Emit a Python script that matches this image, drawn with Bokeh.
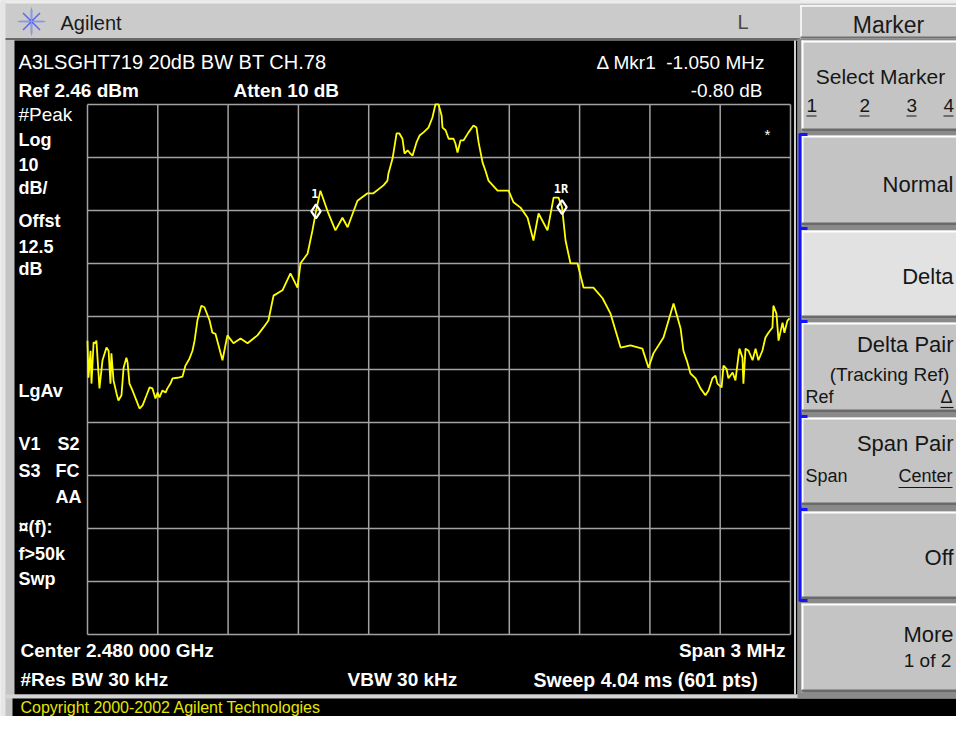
from bokeh.plotting import figure
from bokeh.models import Range1d
from bokeh.core.properties import value
from bokeh.embed import file_html
from bokeh.resources import INLINE

# ---------------- data ----------------
freq_offset_mhz = [
    -1.500, -1.496, -1.487, -1.483, -1.474, -1.466, -1.462, -1.449, -1.436, -1.419,
    -1.410, -1.402, -1.398, -1.389, -1.376, -1.368, -1.355, -1.346, -1.334, -1.329,
    -1.321, -1.308, -1.291, -1.278, -1.265, -1.248, -1.235, -1.223, -1.210, -1.201,
    -1.193, -1.180, -1.167, -1.159, -1.146, -1.137, -1.116, -1.095, -1.082, -1.065,
    -1.052, -1.043, -1.031, -1.022, -1.014, -1.001, -0.979, -0.967, -0.954, -0.924,
    -0.903, -0.877, -0.847, -0.817, -0.775, -0.749, -0.728, -0.706, -0.668, -0.634,
    -0.604, -0.591, -0.561, -0.540, -0.525, -0.506, -0.472, -0.442, -0.412, -0.390,
    -0.348, -0.305, -0.280, -0.237, -0.220, -0.216, -0.198, -0.181, -0.169, -0.156,
    -0.147, -0.134, -0.126, -0.113, -0.109, -0.096, -0.083, -0.066, -0.045, -0.028,
    -0.015, -0.002, 0.011, 0.015, 0.028, 0.041, 0.062, 0.070, 0.079, 0.092,
    0.105, 0.126, 0.147, 0.160, 0.169, 0.186, 0.198, 0.211, 0.250, 0.297,
    0.318, 0.348, 0.378, 0.403, 0.425, 0.463, 0.489, 0.510, 0.525, 0.540,
    0.561, 0.591, 0.617, 0.659, 0.698, 0.732, 0.775, 0.817, 0.868, 0.894,
    0.915, 0.958, 1.001, 1.031, 1.043, 1.060, 1.073, 1.095, 1.116, 1.137,
    1.150, 1.167, 1.180, 1.188, 1.206, 1.214, 1.227, 1.235, 1.253, 1.265,
    1.282, 1.295, 1.299, 1.308, 1.321, 1.338, 1.351, 1.363, 1.380, 1.393,
    1.406, 1.423, 1.427, 1.440, 1.449, 1.466, 1.474, 1.487, 1.496,
]
level_dbm = [
    -42.1, -49.1, -44.0, -50.2, -42.4, -42.6, -42.1, -51.1, -45.8, -43.4,
    -44.0, -50.2, -44.5, -49.6, -52.1, -53.4, -52.4, -47.2, -45.3, -46.2,
    -50.2, -51.5, -53.4, -54.9, -54.3, -52.4, -50.9, -51.1, -53.0, -51.9,
    -52.8, -51.5, -51.9, -51.1, -50.2, -49.2, -49.1, -48.9, -46.8, -45.5,
    -44.0, -42.1, -38.3, -36.8, -35.5, -35.8, -38.3, -40.6, -40.8, -45.8,
    -41.1, -42.6, -41.7, -42.6, -41.1, -39.6, -38.3, -33.6, -32.6, -29.4,
    -32.1, -27.5, -25.7, -21.3, -17.7, -13.8, -18.1, -21.3, -18.9, -20.7,
    -15.7, -14.3, -14.3, -12.8, -11.9, -10.6, -7.7, -3.0, -3.0, -4.0,
    -6.8, -6.2, -6.6, -7.2, -6.6, -4.7, -3.4, -2.8, -1.9, 0.0,
    2.5, 2.5, 0.4, -1.9, -2.4, -4.0, -4.0, -4.9, -6.6, -4.3,
    -4.3, -2.8, -1.5, -1.9, -4.7, -8.5, -10.0, -11.9, -13.8, -13.8,
    -16.0, -17.0, -18.9, -23.2, -18.1, -21.3, -15.1, -15.1, -16.9, -23.2,
    -27.5, -27.5, -32.1, -32.1, -34.1, -37.0, -43.4, -43.0, -43.6, -47.2,
    -44.5, -41.5, -35.1, -39.8, -44.0, -46.2, -48.3, -49.2, -51.1, -52.4,
    -51.5, -49.2, -48.7, -50.2, -50.9, -46.8, -47.4, -49.2, -48.1, -49.6,
    -43.6, -45.3, -50.2, -43.6, -44.0, -45.8, -43.6, -45.8, -44.0, -41.5,
    -40.6, -39.6, -35.5, -37.0, -42.1, -38.7, -40.6, -38.3, -37.9,
]
marker_offset_mhz = [-0.525, 0.525]
marker_level_dbm = [-17.7, -16.9]
marker_names = ["1", "1R"]

x_div_mhz = [-1.5, -1.2, -0.9, -0.6, -0.3, 0.0, 0.3, 0.6, 0.9, 1.2, 1.5]
y_div_dbm = [2.46, -7.54, -17.54, -27.54, -37.54, -47.54, -57.54, -67.54, -77.54, -87.54, -97.54]

# ---------------- layout (screen pixels) ----------------
GX0, GX1, GY0, GY1 = 87, 790, 104, 634   # graticule box
W, H = 956, 716
F0, F1 = x_div_mhz[0], x_div_mhz[-1]
D_TOP, D_BOT = y_div_dbm[0], y_div_dbm[-1]


def f_at(px):
    return F0 + (px - GX0) * (F1 - F0) / (GX1 - GX0)


def db_at(py):
    return D_TOP - (py - GY0) * (D_TOP - D_BOT) / (GY1 - GY0)


p = figure(width=W, height=H,
           x_range=Range1d(0, W), y_range=Range1d(H, 0),
           output_backend="svg", toolbar_location=None,
           x_axis_location=None, y_axis_location=None,
           min_border=0, outline_line_color=None,
           background_fill_color="white", border_fill_color="white")
p.grid.visible = False
p.extra_x_ranges = {"f": Range1d(f_at(0), f_at(W))}
p.extra_y_ranges = {"db": Range1d(db_at(H), db_at(0))}

FONT = value("Liberation Sans")


def box(l, t, r, b, color):
    p.quad(left=[l], right=[r], top=[t], bottom=[b], fill_color=color, line_color=None)


def seg(x0, y0, x1, y1, color, w=1.0):
    p.segment(x0=[x0], y0=[y0], x1=[x1], y1=[y1], line_color=color, line_width=w)


def txt(x, y, s, size, bold=False, color="white", align="left"):
    p.text(x=[x], y=[y], text=[s], text_font=FONT, text_font_size=f"{size}px",
           text_font_style="bold" if bold else "normal", text_color=color,
           text_align=align, text_baseline="middle")


# ---- instrument frame ----
box(0, 0, W, H, "#c4c4c4")
box(0, 0, 800, 38, "#cbcbcb")
box(0, 0, W, 3, "#ececec")
box(0, 0, 5, H, "#e6e6e6")
seg(5, 38.5, 800, 38.5, "#6a6a6a", 2)
box(14, 40, 797, 694, "#000000")
box(5, 694, W, 698, "#d4d4d4")
box(12, 698, W, H, "#000000")
box(797, 38, W, 698, "#8a8a8a")
seg(794.5, 40, 794.5, 694, "#d0d0d0", 2)

# logo + header
p.scatter(x=[31], y=[21], marker="asterisk", size=24, line_color="#5b6cf2", line_width=1.6)
p.scatter(x=[31], y=[21], marker="cross", size=28, line_color="#8a96f6", line_width=1)
txt(60, 22, "Agilent", 20, color="#1a1a1a")
txt(737, 21, "L", 20, color="#4a4a4a")

# ---- softkey panel ----
box(800, 5, W, 38, "#c6c6c6")
seg(800, 5.5, W, 5.5, "#ffffff", 1.5)
seg(800.5, 5, 800.5, 38, "#ffffff", 1.5)
seg(800, 37, W, 37, "#707070", 2)
txt(888, 24, "Marker", 23, color="#1a1a1a", align="center")

keys = [(40, 131, "#c4c4c4"), (135, 225, "#c4c4c4"), (230, 318, "#e2e2e2"),
        (322, 412, "#c4c4c4"), (417, 505, "#c4c4c4"), (511, 599, "#c4c4c4"),
        (603, 692, "#c4c4c4")]
for t, b, c in keys:
    box(801, t, W, b, c)
    seg(801, t + 1, W, t + 1, "#ffffff", 2)
    seg(802, t, 802, b, "#ffffff", 2)
    seg(801, b - 1.5, W, b - 1.5, "#6a6a6a", 3)

# blue bracket of the marker-mode keys
seg(799.5, 133, 799.5, 601, "#1414ff", 3)
for yb in [134, 228, 321, 416, 509, 600]:
    seg(799, yb, 807, yb, "#1414ff", 3)

KC = "#161616"
RX = 953
txt(880, 76, "Select Marker", 21, color=KC, align="center")
for xk, k in zip([806, 859, 906, 943], ["1", "2", "3", "4"]):
    txt(xk, 104.5, k, 19, color=KC)
    seg(xk, 115.5, xk + 10, 115.5, KC, 1.2)
txt(RX, 184, "Normal", 22, color=KC, align="right")
txt(RX, 276, "Delta", 22, color=KC, align="right")
txt(RX, 344, "Delta Pair", 22, color=KC, align="right")
txt(889, 373.5, "(Tracking Ref)", 19, color=KC, align="center")
txt(805, 396.5, "Ref", 18, color=KC)
txt(940, 396.5, "\u0394", 18, color=KC)
seg(940, 407, 953, 407, KC, 1.2)
txt(RX, 442.5, "Span Pair", 22, color=KC, align="right")
txt(805, 475.5, "Span", 18, color=KC)
txt(898, 475.5, "Center", 18, color=KC)
seg(898, 487, 952, 487, KC, 1.2)
txt(RX, 557, "Off", 22, color=KC, align="right")
txt(RX, 634, "More", 22, color=KC, align="right")
txt(927, 660, "1 of 2", 19, color=KC, align="center")

# ---- screen annotations ----
txt(18, 61.5, "A3LSGHT719 20dB BW BT CH.78", 20)
txt(18, 90, "Ref 2.46 dBm", 19, bold=True)
txt(233, 90, "Atten 10 dB", 19, bold=True)
txt(765, 61.5, "\u0394 Mkr1\u00a0 -1.050 MHz", 19, align="right")
txt(762, 90, "-0.80 dB", 19, align="right")

left_notes = [("Log", 139.5), ("10", 163.5), ("dB/", 187.5), ("Offst", 220.5),
              ("12.5", 245.5), ("dB", 268.5), ("LgAv", 390.5), ("V1", 443.5),
              ("S3", 470.5), ("\u00a4(f):", 526.5), ("f>50k", 553.5), ("Swp", 578.5)]
txt(18, 113.5, "#Peak", 19)
for s, yc in left_notes:
    txt(18, yc, s, 18, bold=True)
txt(57, 443.5, "S2", 18, bold=True)
txt(55, 470.5, "FC", 18, bold=True)
txt(55, 496.5, "AA", 18, bold=True)
txt(767, 134, "*", 15, align="center")

txt(20, 650, "Center 2.480 000 GHz", 19, bold=True)
txt(785, 650, "Span 3 MHz", 19, bold=True, align="right")
txt(20, 679, "#Res BW 30 kHz", 19, bold=True)
txt(347, 679, "VBW 30 kHz", 19, bold=True)
txt(533, 679, "Sweep 4.04 ms (601 pts)", 19.5, bold=True)
txt(20, 707, "Copyright 2000-2002 Agilent Technologies", 16, color="#e6e600")

# ---- graticule (data coordinates) ----
GRID = "#a2a2a2"
p.segment(x0=x_div_mhz, y0=[D_BOT] * len(x_div_mhz), x1=x_div_mhz, y1=[D_TOP] * len(x_div_mhz),
          x_range_name="f", y_range_name="db", line_color=GRID, line_width=1.5)
p.segment(x0=[F0] * len(y_div_dbm), y0=y_div_dbm, x1=[F1] * len(y_div_dbm), y1=y_div_dbm,
          x_range_name="f", y_range_name="db", line_color=GRID, line_width=1.5)

# ---- trace ----
p.line(x=freq_offset_mhz, y=level_dbm, x_range_name="f", y_range_name="db",
       line_color="#ffff00", line_width=1.8)

# ---- markers ----
p.scatter(x=marker_offset_mhz, y=marker_level_dbm, marker="diamond", size=14,
          fill_color=None, line_color="white", line_width=2.2,
          x_range_name="f", y_range_name="db")
p.text(x=marker_offset_mhz, y=marker_level_dbm, text=marker_names,
       x_range_name="f", y_range_name="db", y_offset=-18, x_offset=-1,
       text_font=value("DejaVu Sans Mono"), text_font_size="12px",
       text_font_style="bold", text_color="white", text_align="center",
       text_baseline="middle")

open("out.html", "w").write(file_html(p, INLINE))
